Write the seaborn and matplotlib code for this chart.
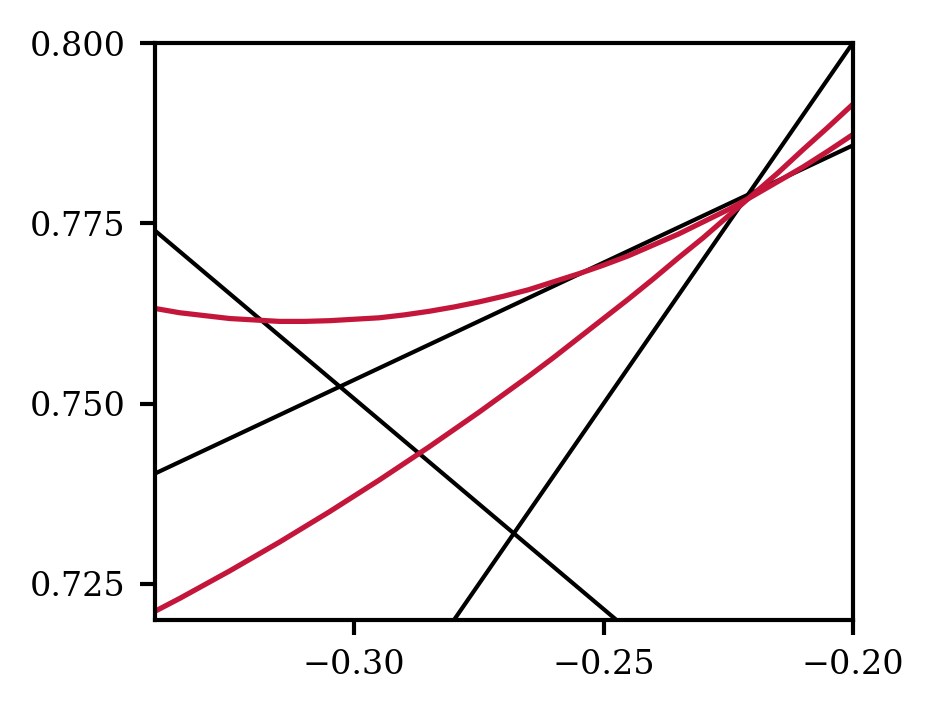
import numpy as np
import pandas as pd
import matplotlib
matplotlib.use("Agg")
import matplotlib.pyplot as plt
import seaborn as sns

curve_x = [-0.340, -0.335, -0.330, -0.325, -0.320, -0.315, -0.310, -0.305,
           -0.300, -0.295, -0.290, -0.285, -0.280, -0.275, -0.270, -0.265,
           -0.260, -0.255, -0.250, -0.245, -0.240, -0.235, -0.230, -0.225,
           -0.220, -0.215, -0.210, -0.205, -0.200]
upper_curve = [0.7632, 0.7626, 0.7622, 0.7618, 0.7616, 0.7614, 0.7614, 0.7615,
               0.7617, 0.7619, 0.7623, 0.7628, 0.7634, 0.7641, 0.7649, 0.7658,
               0.7669, 0.7680, 0.7692, 0.7705, 0.7720, 0.7735, 0.7752, 0.7769,
               0.7788, 0.7808, 0.7828, 0.7850, 0.7873]
lower_curve = [0.7212, 0.7230, 0.7249, 0.7268, 0.7288, 0.7308, 0.7329, 0.7350,
               0.7372, 0.7394, 0.7417, 0.7440, 0.7464, 0.7488, 0.7513, 0.7538,
               0.7564, 0.7591, 0.7618, 0.7645, 0.7673, 0.7702, 0.7730, 0.7760,
               0.7790, 0.7820, 0.7852, 0.7883, 0.7915]

# straight black lines, end points
falling_x = [-0.34, -0.2474]
falling_y = [0.7740, 0.7200]
shallow_x = [-0.34, -0.20]
shallow_y = [0.7403, 0.7858]
steep_x = [-0.28, -0.20]
steep_y = [0.7200, 0.8000]

x_ticks = [-0.30, -0.25, -0.20]
y_ticks = [0.725, 0.750, 0.775, 0.800]

RED = "#c4163a"

sns.set_theme(style="ticks")
plt.rcParams["font.family"] = ["DejaVu Serif"]
plt.rcParams["axes.linewidth"] = 1.0
plt.rcParams["axes.edgecolor"] = "black"

fig = plt.figure(figsize=(933 / 300, 711 / 300), dpi=300)
ax = fig.add_axes([0.166, 0.128, 0.748, 0.8115])

for xs, ys in [(falling_x, falling_y), (shallow_x, shallow_y), (steep_x, steep_y)]:
    df = pd.DataFrame({"x": xs, "y": ys})
    sns.lineplot(data=df, x="x", y="y", color="black", linewidth=1.0,
                 sort=False, estimator=None, ax=ax)

for ys in [upper_curve, lower_curve]:
    df = pd.DataFrame({"x": curve_x, "y": ys})
    sns.lineplot(data=df, x="x", y="y", color=RED, linewidth=1.25,
                 sort=False, estimator=None, ax=ax)

ax.set_xlim(-0.34, -0.20)
ax.set_ylim(0.72, 0.80)
ax.set_xticks(x_ticks)
ax.set_xticklabels(["\u22120.30", "\u22120.25", "\u22120.20"])
ax.set_yticks(y_ticks)
ax.set_yticklabels(["0.725", "0.750", "0.775", "0.800"])
ax.tick_params(labelsize=8, width=1.0, length=3.5, colors="black")
ax.set_xlabel("")
ax.set_ylabel("")

fig.savefig("out.png", dpi=300)
